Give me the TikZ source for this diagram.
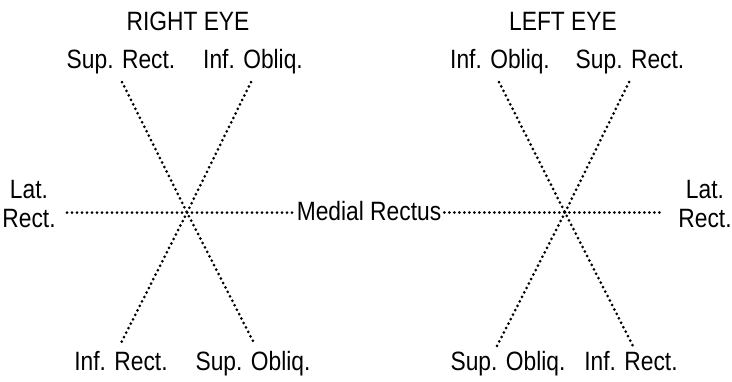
\documentclass[tikz,border=0pt]{standalone}
\usepackage{fontspec}
\setmainfont[FakeStretch=0.86]{Liberation Sans}
\usetikzlibrary{positioning}

\begin{document}
\begin{tikzpicture}[x=1pt, y=-1pt,
  dotline/.style={line width=3pt, dash pattern=on 0pt off 5pt, line cap=round},
  lbl/.style={font=\fontsize{26.5}{29}\selectfont, inner sep=0pt, anchor=base},
  ttl/.style={font=\fontsize{26.5}{29}\selectfont, inner sep=0pt, anchor=base}]
  \useasboundingbox (0,0) rectangle (732,381);
  % titles
  \node[ttl] (titleR) at (188,30) {RIGHT EYE};
  \node[ttl] (titleL) at (563,30) {LEFT EYE};
  % right eye labels
  \node[lbl] (supRectR) at (121,68) {Sup. Rect.};
  \node[lbl] (infObliqR) at (253,68) {Inf. Obliq.};
  \node[lbl] (infRectR) at (121,370) {Inf. Rect.};
  \node[lbl] (supObliqR) at (253,370) {Sup. Obliq.};
  \node[lbl, align=center] (latRectR) at (29,227) {Lat.\\Rect.};
  % left eye labels
  \node[lbl] (infObliqL) at (500,68) {Inf. Obliq.};
  \node[lbl] (supRectL) at (630,68) {Sup. Rect.};
  \node[lbl] (supObliqL) at (508,370) {Sup. Obliq.};
  \node[lbl] (infRectL) at (631,370) {Inf. Rect.};
  \node[lbl, align=center] (latRectL) at (705,227) {Lat.\\Rect.};
  % shared
  \node[lbl, inner xsep=3pt] (medial) at (369,220) {Medial Rectus};

  % line ends
  \coordinate (cR) at (187,212.5);
  \coordinate (cL) at (565,212.5);
  \coordinate (srTopR) at (122,82);
  \coordinate (ioTopR) at (251,82);
  \coordinate (irBotR) at (120,345);
  \coordinate (soBotR) at (255,345);
  \coordinate (latEndR) at (67,212.5);
  \coordinate (ioTopL) at (499,82);
  \coordinate (srTopL) at (629,82);
  \coordinate (soBotL) at (497,346);
  \coordinate (irBotL) at (633,346);
  \coordinate (latEndL) at (664,212.5);

  % right eye
  \draw[dotline] (srTopR) -- (cR) -- (soBotR);
  \draw[dotline] (ioTopR) -- (cR) -- (irBotR);
  \draw[dotline] (latEndR) -- (cR) -- (medial.west |- cR);
  % left eye
  \draw[dotline] (ioTopL) -- (cL) -- (irBotL);
  \draw[dotline] (srTopL) -- (cL) -- (soBotL);
  \draw[dotline] (medial.east |- cL) -- (cL) -- (latEndL);
\end{tikzpicture}
\end{document}
